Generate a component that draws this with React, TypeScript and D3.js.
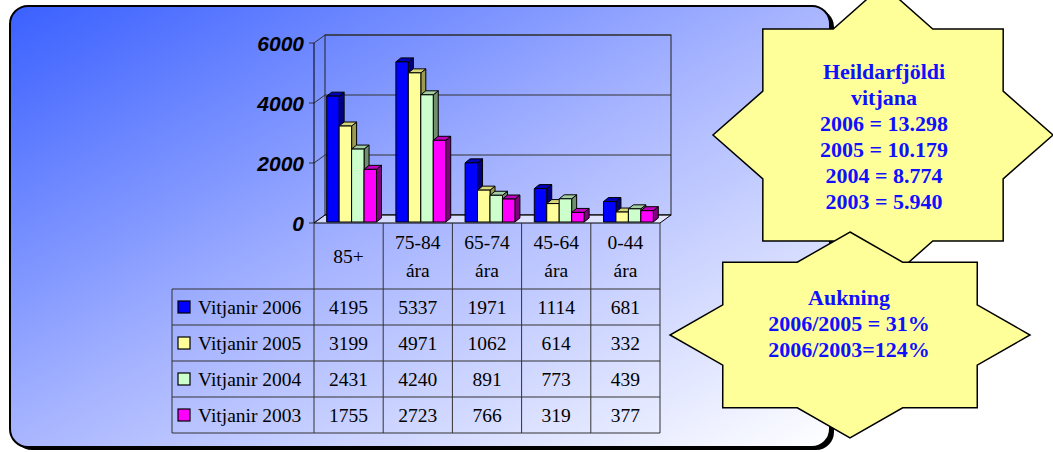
import React from 'react';
import * as d3 from 'd3';

const categories = ['85+', '75-84 ára', '65-74 ára', '45-64 ára', '0-44 ára'];
const seriesNames = ['Vitjanir 2006', 'Vitjanir 2005', 'Vitjanir 2004', 'Vitjanir 2003'];
const values2006 = [4195, 5337, 1971, 1114, 681];
const values2005 = [3199, 4971, 1062, 614, 332];
const values2004 = [2431, 4240, 891, 773, 439];
const values2003 = [1755, 2723, 766, 319, 377];
const yTicks = [0, 2000, 4000, 6000];
const frontColors = ['#0000ff', '#ffff99', '#ccffcc', '#ff00ff'];
const sideColors = ['#000080', '#9a9a50', '#6f8f6f', '#800080'];
const topColors = ['#0000b8', '#d6d67a', '#a3cfa3', '#c000c0'];
const star1Lines = ['Heildarfjöldi', 'vitjana', '2006 = 13.298', '2005 = 10.179', '2004 = 8.774', '2003 = 5.940'];
const star2Lines = ['Aukning', '2006/2005 = 31%', '2006/2003=124%'];

const W = 1053;
const H = 452;
const plotLeft = 314;
const plotRight = 660;
const plotBottom = 223;
const plotTop = 43;
const depthX = 11;
const depthY = -8;
const barDX = 5;
const barDY = -4;
const tableLeft = 172;
const tableBottom = 433;
const headerBottom = 289;

function star8(cx: number, cy: number, rx: number, ry: number, ratio: number) {
  const pts: string[] = [];
  for (let i = 0; i < 16; i++) {
    const a = (i * 22.5 - 90) * Math.PI / 180;
    const r = i % 2 === 0 ? 1 : ratio;
    pts.push(`${cx + rx * r * Math.cos(a)},${cy + ry * r * Math.sin(a)}`);
  }
  return pts.join(' ');
}

export default function App() {
  const seriesValues = [values2006, values2005, values2004, values2003];
  const x = d3.scaleBand<string>().domain(categories).range([plotLeft, plotRight]);
  const y = d3.scaleLinear().domain([0, 6000]).range([plotBottom, plotTop]);
  const bw = x.bandwidth();
  const gap = bw * 0.28;
  const xs = d3.scaleBand<string>().domain(seriesNames).range([gap / 2, bw - gap / 2]);
  const rows = d3.scaleBand<string>().domain(seriesNames).range([headerBottom, tableBottom]);
  const sw = xs.bandwidth();
  const serif = '"Liberation Serif", "Times New Roman", serif';

  const bars: JSX.Element[] = [];
  categories.forEach((c, ci) => {
    seriesNames.forEach((s, si) => {
      const v = seriesValues[si][ci];
      const x0 = (x(c) as number) + (xs(s) as number) + 3;
      const x1 = x0 + sw;
      const yb = y(0) - 1;
      const yt = y(v) - 1;
      bars.push(
        <g key={`${ci}-${si}`} stroke="#000" strokeWidth={1} strokeLinejoin="round">
          <polygon points={`${x1},${yt} ${x1 + barDX},${yt + barDY} ${x1 + barDX},${yb + barDY} ${x1},${yb}`} fill={sideColors[si]} />
          <polygon points={`${x0},${yt} ${x0 + barDX},${yt + barDY} ${x1 + barDX},${yt + barDY} ${x1},${yt}`} fill={topColors[si]} />
          <rect x={x0} y={yt} width={sw} height={yb - yt} fill={frontColors[si]} />
        </g>
      );
    });
  });

  return (
    <svg width={W} height={H} style={{ position: 'fixed', left: 0, top: 0, background: '#fff' }}>
      <defs>
        <linearGradient id="panelGrad" x1="0" y1="0" x2="1" y2="1">
          <stop offset="0" stopColor="#3a60ff" />
          <stop offset="0.5" stopColor="#a9b6ff" />
          <stop offset="1" stopColor="#ffffff" />
        </linearGradient>
      </defs>
      {/* panel */}
      <rect x={14} y={9} width={820} height={441} rx={18} fill="#000" />
      <rect x={10} y={6} width={820} height={441} rx={18} fill="url(#panelGrad)" stroke="#000" strokeWidth={2} />

      {/* back wall */}
      <rect x={plotLeft + depthX} y={y(6000) + depthY} width={plotRight - plotLeft} height={y(0) - y(6000)} fill="none" stroke="#222" strokeWidth={1} />
      {yTicks.map(t => (
        <g key={t} stroke="#333" strokeWidth={1}>
          <line x1={plotLeft + depthX} x2={plotRight + depthX} y1={y(t) + depthY} y2={y(t) + depthY} />
          <line x1={plotLeft} x2={plotLeft + depthX} y1={y(t)} y2={y(t) + depthY} />
          <line x1={plotLeft - 5} x2={plotLeft} y1={y(t)} y2={y(t)} />
        </g>
      ))}
      <line x1={plotLeft} x2={plotLeft} y1={y(0)} y2={y(6000)} stroke="#000" strokeWidth={1} />
      {/* floor */}
      <polygon
        points={`${plotLeft},${y(0)} ${plotRight},${y(0)} ${plotRight + depthX},${y(0) + depthY} ${plotLeft + depthX},${y(0) + depthY}`}
        fill="#ffffff" fillOpacity={0.55} stroke="#000" strokeWidth={1}
      />
      {yTicks.map(t => (
        <text key={'l' + t} x={plotLeft - 10} y={y(t) + 7.5} textAnchor="end"
          fontFamily='"Liberation Sans", Arial, sans-serif' fontWeight="bold" fontStyle="italic" fontSize={21} fill="#000">
          {t}
        </text>
      ))}
      {bars}

      {/* table */}
      <g stroke="#333" strokeWidth={1} fill="none">
        {categories.map(c => (
          <line key={c} x1={x(c) as number} x2={x(c) as number} y1={plotBottom} y2={tableBottom} />
        ))}
        <line x1={plotRight} x2={plotRight} y1={plotBottom} y2={tableBottom} />
        <line x1={tableLeft} x2={tableLeft} y1={headerBottom} y2={tableBottom} />
        {seriesNames.map(s => (
          <line key={s} x1={tableLeft} x2={plotRight} y1={rows(s) as number} y2={rows(s) as number} />
        ))}
        <line x1={tableLeft} x2={plotRight} y1={tableBottom} y2={tableBottom} />
      </g>
      {categories.map(c => {
        const parts = c.split(' ');
        const cx = (x(c) as number) + bw / 2;
        const mid = (plotBottom + headerBottom) / 2;
        return parts.map((p, i) => (
          <text key={c + i} x={cx} y={mid + 7 + (i - (parts.length - 1) / 2) * 28} textAnchor="middle"
            fontFamily={serif} fontSize={19.5} fill="#000">{p}</text>
        ));
      })}
      {seriesNames.map((s, si) => {
        const cy = (rows(s) as number) + rows.bandwidth() / 2;
        return (
          <g key={s}>
            <rect x={178} y={cy - 6} width={12} height={12} fill={frontColors[si]} stroke="#000" strokeWidth={1.2} />
            <text x={198} y={cy + 7} fontFamily={serif} fontSize={19.5} fill="#000">{s}</text>
            {categories.map((c, ci) => (
              <text key={c} x={(x(c) as number) + bw / 2} y={cy + 6.5} textAnchor="middle"
                fontFamily={serif} fontSize={19.5} fill="#000">{seriesValues[si][ci]}</text>
            ))}
          </g>
        );
      })}

      {/* stars */}
      <polygon points={star8(883, 135, 170, 150, 0.765)} fill="#ffff99" stroke="#000" strokeWidth={1.5} />
      <polygon points={star8(850, 335, 180, 103, 0.765)} fill="#ffff99" stroke="#000" strokeWidth={1.5} />
      {star1Lines.map((t, i) => (
        <text key={t} x={884} y={79 + i * 26} textAnchor="middle" fontFamily={serif} fontWeight="bold" fontSize={22} fill="#1010ff">{t}</text>
      ))}
      {star2Lines.map((t, i) => (
        <text key={t} x={849} y={305 + i * 26} textAnchor="middle" fontFamily={serif} fontWeight="bold" fontSize={22} fill="#1010ff">{t}</text>
      ))}
    </svg>
  );
}
